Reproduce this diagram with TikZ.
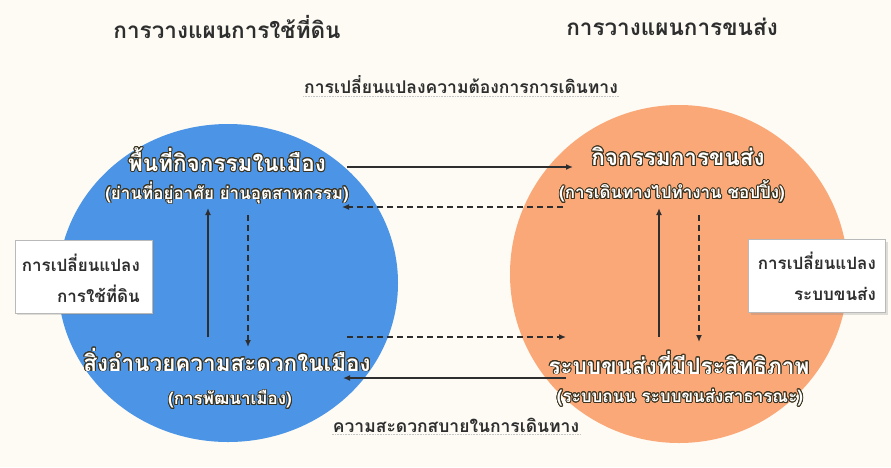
\documentclass[tikz,border=0pt]{standalone}
\usepackage{fontspec}
\newfontfamily\thai[Script=Thai]{Loma}
\usepackage{contour}
\contourlength{0.9pt}
\contournumber{20}
\usetikzlibrary{arrows.meta,shadows}
\definecolor{bluec}{HTML}{4C94E6}
\definecolor{orangec}{HTML}{FBA878}
\definecolor{bgc}{HTML}{FDFBF4}
\definecolor{txt}{HTML}{2E2E2E}
\definecolor{outl}{HTML}{3B3420}
\newcommand{\ctr}[1]{\contour{outl}{#1}}
\tikzset{
  titlelbl/.style={text=txt, inner sep=1pt, font=\thai\bfseries\fontsize{22.5}{26}\selectfont},
  midlbl/.style={text=txt, inner sep=1pt, font=\thai\bfseries\fontsize{17.5}{21}\selectfont},
  mainlbl/.style={text=white, inner sep=1pt, font=\thai\bfseries\fontsize{22.5}{26}\selectfont},
  sublbl/.style={text=white, inner sep=1pt, font=\thai\bfseries\fontsize{17}{20}\selectfont},
  sidebox/.style={draw=gray!55, line width=0.6pt, fill=white, minimum width=137pt, minimum height=73pt, inner sep=0pt,
    drop shadow={opacity=0.25, shadow xshift=2pt, shadow yshift=-2pt}},
  sidetxt/.style={text=txt, align=right, inner sep=0pt, font=\thai\bfseries\fontsize{17}{31}\selectfont},
  solidarr/.style={draw=txt, line width=1.5pt, -{Latex[length=7pt,width=6pt]}},
  dasharr/.style={solidarr, dash pattern=on 6pt off 4pt},
  uline/.style={draw=gray!45, line width=0.6pt, densely dotted}
}
\begin{document}
\begin{tikzpicture}[x=1pt,y=-1pt]
\useasboundingbox (0,0) rectangle (891,467);
\fill[bgc] (0,0) rectangle (891,467);

% circles
\fill[bluec] (228,283) ellipse [x radius=170, y radius=159];
\fill[orangec] (679,274) circle [radius=169];

% titles
\node[titlelbl] (tl) at (227,27) {การวางแผนการใช้ที่ดิน};
\node[titlelbl] (tr) at (672,27) {การวางแผนการขนส่ง};

% middle labels
\node[midlbl] (mtop) at (461,85) {การเปลี่ยนแปลงความต้องการการเดินทาง};
\path[uline] ([yshift=-1pt]mtop.south west) -- ([yshift=-1pt]mtop.south east);
\node[midlbl] (mbot) at (456,425) {ความสะดวกสบายในการเดินทาง};
\path[uline] ([yshift=-1pt]mbot.south west) -- ([yshift=-1pt]mbot.south east);

% side boxes
\node[sidebox] (lbox) at (83.5,276.5) {};
\node[sidetxt, anchor=east] (ltxt) at (140,278) {การเปลี่ยนแปลง\\การใช้ที่ดิน};
\node[sidebox] (rbox) at (817,276) {};
\node[sidetxt, anchor=east] (rtxt) at (876,276) {การเปลี่ยนแปลง\\ระบบขนส่ง};

% circle labels
\node[mainlbl] (act) at (227,160) {\ctr{พื้นที่กิจกรรมในเมือง}};
\node[sublbl] (actsub) at (227,193) {\ctr{(ย่านที่อยู่อาศัย ย่านอุตสาหกรรม)}};
\node[mainlbl] (fac) at (227,360) {\ctr{สิ่งอำนวยความสะดวกในเมือง}};
\node[sublbl] (facsub) at (230,400) {\ctr{(การพัฒนาเมือง)}};
\node[mainlbl] (tra) at (678,157) {\ctr{กิจกรรมการขนส่ง}};
\node[sublbl] (trasub) at (672,192) {\ctr{(การเดินทางไปทำงาน ชอปปิ้ง)}};
\node[mainlbl] (sys) at (679,363) {\ctr{ระบบขนส่งที่มีประสิทธิภาพ}};
\node[sublbl] (syssub) at (680,398) {\ctr{(ระบบถนน ระบบขนส่งสาธารณะ)}};

% arrow end points
\coordinate (a1s) at (347,167); \coordinate (a1e) at (573,167);
\coordinate (a2s) at (563,207); \coordinate (a2e) at (342,207);
\coordinate (a3s) at (347,337); \coordinate (a3e) at (566,337);
\coordinate (a4s) at (566,378); \coordinate (a4e) at (343,378);
\coordinate (b1s) at (208,337); \coordinate (b1e) at (208,208);
\coordinate (b2s) at (248,215); \coordinate (b2e) at (248,347);
\coordinate (o1s) at (659,337); \coordinate (o1e) at (659,208);
\coordinate (o2s) at (699,215); \coordinate (o2e) at (699,342);

\draw[solidarr] (a1s) -- (a1e);
\draw[dasharr] (a2s) -- (a2e);
\draw[dasharr] (a3s) -- (a3e);
\draw[solidarr] (a4s) -- (a4e);
\draw[solidarr] (b1s) -- (b1e);
\draw[dasharr] (b2s) -- (b2e);
\draw[solidarr] (o1s) -- (o1e);
\draw[dasharr] (o2s) -- (o2e);
\end{tikzpicture}
\end{document}
